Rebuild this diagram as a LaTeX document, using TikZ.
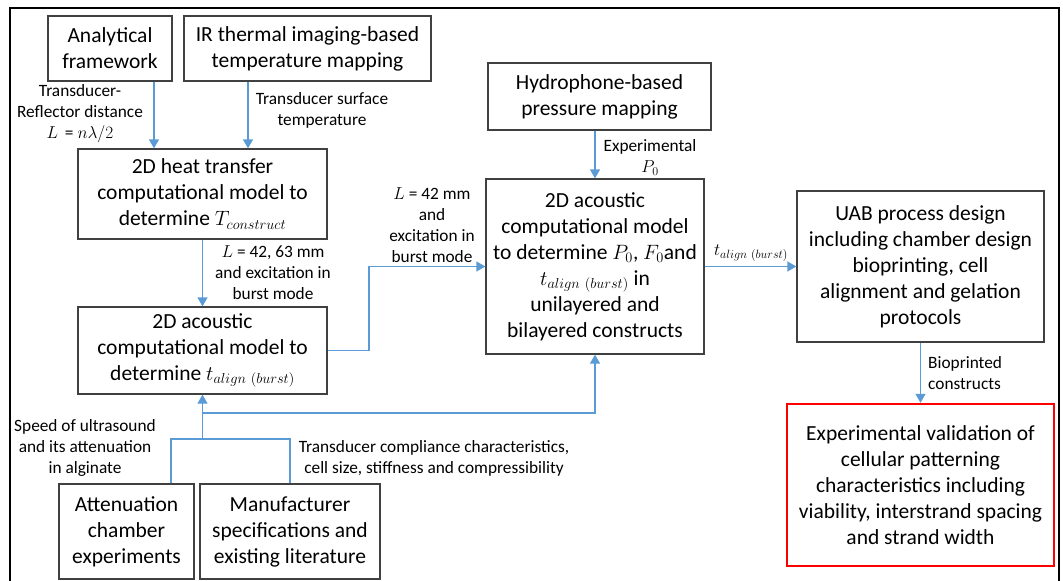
\documentclass[tikz,border=0pt]{standalone}
\usepackage{fontspec}
\setmainfont{Carlito}
\usetikzlibrary{arrows.meta}
\definecolor{arrblue}{HTML}{5B9BD5}
\definecolor{boxgray}{HTML}{404040}
\begin{document}
\begin{tikzpicture}[x=1pt,y=-1pt,
 box/.style={draw=boxgray,line width=1.3pt,align=center,inner sep=0pt,font=\fontsize{21.5}{26}\selectfont},
 redbox/.style={box,draw=red,line width=2.4pt},
 lbl/.style={align=center,inner sep=0pt,font=\fontsize{17.3}{21}\selectfont},
 arr/.style={draw=arrblue,line width=1.3pt,-{Triangle[width=10pt,length=9pt]}},
 ln/.style={draw=arrblue,line width=1.3pt}]
\useasboundingbox (0,0) rectangle (1063,581);
\draw[black,line width=1.3pt] (10,581) -- (10,8) -- (1059,8) -- (1059,581);

% boxes
\node[box,minimum width=124pt,minimum height=65pt] (af) at (110,48.5) {Analytical\\framework};
\node[box,minimum width=247pt,minimum height=65pt] (ir) at (307.5,48.5) {IR thermal imaging-based\\temperature mapping};
\node[box,minimum width=249pt,minimum height=90pt] (ht) at (202.5,194) {2D heat transfer\\computational model to\\determine $T_{construct}$};
\node[box,minimum width=249pt,minimum height=87pt] (acl) at (202.5,350.5) {2D acoustic\\computational model to\\determine $t_{align\ (burst)}$};
\node[box,minimum width=135pt,minimum height=95pt] (att) at (126.5,531.5) {Attenuation\\chamber\\experiments};
\node[box,minimum width=180pt,minimum height=95pt] (man) at (290,531.5) {Manufacturer\\specifications and\\existing literature};
\node[box,minimum width=223pt,minimum height=67pt] (hyd) at (599.5,96.5) {Hydrophone-based\\pressure mapping};
\node[box,minimum width=218pt,minimum height=175pt] (mid) at (595,266.5) {2D acoustic\\computational model\\to determine $P_0$, $F_0$and\\$t_{align\ (burst)}$ in\\unilayered and\\bilayered constructs};
\node[box,minimum width=247pt,minimum height=151pt] (uab) at (920.5,266.5) {UAB process design\\including chamber design\\bioprinting, cell\\alignment and gelation\\protocols};
\node[redbox,minimum width=267pt,minimum height=162pt] (exp) at (920.5,485) {Experimental validation of\\cellular patterning\\characteristics including\\viability, interstrand spacing\\and strand width};

% labels
\node[lbl] (l1) at (80,114) {Transducer-\\Reflector distance\\$L$ \,= $n\lambda/2$};
\node[lbl] (l2) at (322,110.5) {Transducer surface\\temperature};
\node[lbl] (l3) at (273,273) {$L$ = 42, 63 mm\\and excitation in\\burst mode};
\node[lbl] (l4) at (432,225.5) {$L$ = 42 mm\\and\\excitation in\\burst mode};
\node[lbl] (l5) at (650,157.5) {Experimental\\$P_0$};
\node[lbl] (l6) at (751,253) {$t_{align\ (burst)}$};
\node[lbl,align=left,anchor=west] (l7) at (928,373.5) {Bioprinted\\constructs};
\node[lbl] (l8) at (85,448) {Speed of ultrasound\\and its attenuation\\in alginate};
\node[lbl] (l9) at (434,458.5) {Transducer compliance characteristics,\\cell size, stiffness and compressibility};

% helper coordinates
\coordinate (xa) at (154,0);
\coordinate (xb) at (248,0);
\coordinate (xc) at (369,0);
\coordinate (xd) at (171,0);
\coordinate (j1) at (202.5,439);
\coordinate (j2) at (202.5,413);

% connectors
\draw[arr] (af.south -| xa) -- (ht.north -| xa);
\draw[arr] (ir.south -| xb) -- (ht.north -| xb);
\draw[arr] (ht.south) -- (acl.north);
\draw[arr] (acl.east) -- (acl.east -| xc) |- (mid.west);
\draw[arr] (hyd.south -| mid.north) -- (mid.north);
\draw[arr] (mid.east) -- (uab.west);
\draw[arr] (uab.south) -- (exp.north);
\draw[ln] (att.north -| xd) -- (j1 -| xd) -- (j1 -| man.north) -- (man.north);
\draw[arr] (j1) -- (acl.south);
\draw[arr] (j2) -| (mid.south);
\end{tikzpicture}
\end{document}
